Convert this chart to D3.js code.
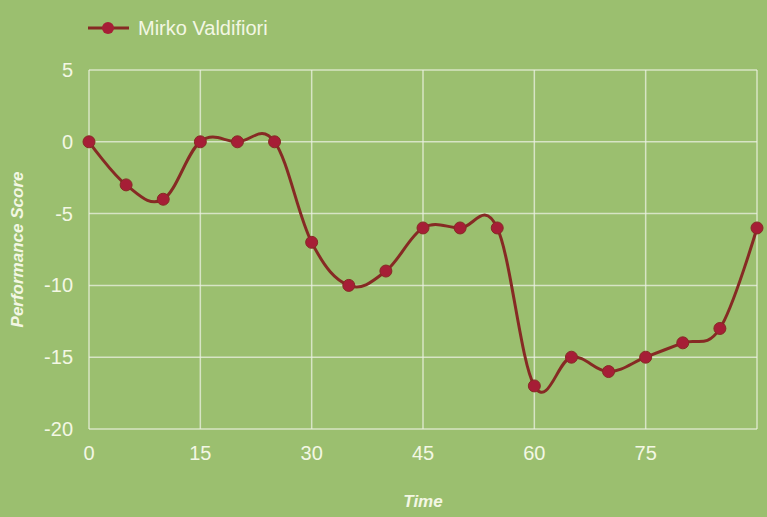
<!DOCTYPE html>
<html><head><meta charset="utf-8">
<script src="https://cdn.jsdelivr.net/npm/d3@7"></script>
<style>html,body{margin:0;padding:0;background:#9bbf6f;}svg{display:block;}</style>
</head><body>
<svg id="c" width="767" height="517"></svg>
<script>
const seriesName = "Mirko Valdifiori";
const times = [0,5,10,15,20,25,30,35,40,45,50,55,60,65,70,75,80,85,90];
const scores = [0,-3,-4,0,0,0,-7,-10,-9,-6,-6,-6,-17,-15,-16,-15,-14,-13,-6];
const xTicks = [0,15,30,45,60,75];
const yTicks = [5,0,-5,-10,-15,-20];

const svg = d3.select("#c");
const W = 767, H = 517;
const m = {left:89, right:10, top:70, bottom:88};
const x = d3.scaleLinear().domain([0,90]).range([m.left, W - m.right]);
const y = d3.scaleLinear().domain([-20,5]).range([H - m.bottom, m.top]);
svg.append("rect").attr("width",W).attr("height",H).attr("fill","#9bbf6f");

const font = "Liberation Sans, Arial, sans-serif";
const textCol = "#f3f7e4";
const gridCol = "rgba(235,240,225,0.75)";
const lineCol = "#862a24";
const ptCol = "#a61e36";
const g = svg.append("g");
// grid
g.selectAll(".vg").data(xTicks.concat([90])).enter().append("line")
  .attr("x1",d=>x(d)).attr("x2",d=>x(d)).attr("y1",y(5)).attr("y2",y(-20))
  .attr("stroke",gridCol).attr("stroke-width",1.5);
g.selectAll(".hg").data(yTicks).enter().append("line")
  .attr("x1",x(0)).attr("x2",x(90)).attr("y1",d=>y(d)).attr("y2",d=>y(d))
  .attr("stroke",gridCol).attr("stroke-width",1.5);

// tick labels
g.selectAll(".xt").data(xTicks).enter().append("text")
  .attr("x",d=>x(d)).attr("y",y(-20)+31).attr("text-anchor","middle")
  .attr("font-family",font).attr("font-size",20)
  .attr("fill",textCol).text(d=>d);
g.selectAll(".yt").data(yTicks).enter().append("text")
  .attr("x",x(0)-16).attr("y",d=>y(d)+7).attr("text-anchor","end")
  .attr("font-family",font).attr("font-size",20)
  .attr("fill",textCol).text(d=>d);

// axis titles
svg.append("text").attr("x",(x(0)+x(90))/2).attr("y",507).attr("text-anchor","middle")
  .attr("font-family",font).attr("font-size",17).attr("font-style","italic").attr("font-weight","bold")
  .attr("fill",textCol).text("Time");
svg.append("text").attr("transform",`translate(23,${(y(5)+y(-20))/2}) rotate(-90)`).attr("text-anchor","middle")
  .attr("font-family",font).attr("font-size",17).attr("font-style","italic").attr("font-weight","bold")
  .attr("fill",textCol).text("Performance Score");

// line
const data = times.map((t,i)=>({t, v:scores[i]}));
const line = d3.line().x(d=>x(d.t)).y(d=>y(d.v)).curve(d3.curveCardinal.tension(-0.1));
svg.append("path").datum(data).attr("d",line).attr("fill","none")
  .attr("stroke",lineCol).attr("stroke-width",3);
svg.selectAll(".pt").data(data).enter().append("circle")
  .attr("cx",d=>x(d.t)).attr("cy",d=>y(d.v)).attr("r",6)
  .attr("fill",ptCol).attr("stroke",lineCol).attr("stroke-width",1);

// legend
const lg = svg.append("g");
lg.append("line").attr("x1",88).attr("x2",129).attr("y1",28).attr("y2",28)
  .attr("stroke",lineCol).attr("stroke-width",3);
lg.append("circle").attr("cx",108).attr("cy",28).attr("r",6).attr("fill",ptCol);
lg.append("text").attr("x",138).attr("y",35).attr("font-family",font)
  .attr("font-size",20).attr("fill",textCol).text(seriesName);
</script>
</body></html>
